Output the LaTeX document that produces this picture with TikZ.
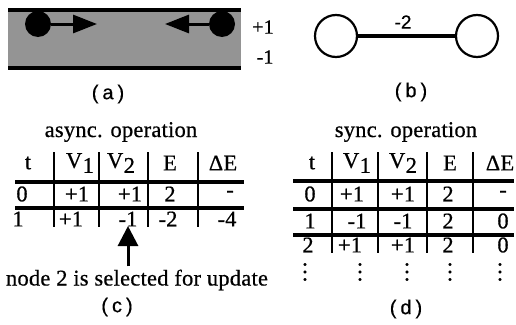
\documentclass[tikz,border=0pt]{standalone}
\usepackage{fontspec}
\setmainfont{Liberation Serif}[LetterSpace=1,FakeBold=0.6]
\newfontfamily\lblfont{Liberation Sans}[FakeBold=0.4]
\usetikzlibrary{arrows.meta}
\newcommand\vdts{\vbox{\baselineskip=7.5pt\lineskiplimit=-20pt\hbox{.}\hbox{.}\hbox{.}}}
\newcommand\sublbl[1]{{\lblfont\fontsize{20}{22}\selectfont(\kern4pt#1\kern4pt)}}
\newcommand\Vsub[1]{V\kern0.5pt\raisebox{-5pt}{#1}}
\begin{document}
\begin{tikzpicture}[x=1pt,y=-1pt,
  txt/.style={font=\fontsize{22.5}{24}\selectfont, inner sep=0pt, anchor=center},
  rulel/.style={line width=3.2pt},
  vrulel/.style={line width=2.8pt},
  dotn/.style={circle, fill=black, minimum size=26pt, inner sep=0pt},
  ring/.style={circle, draw, line width=2.2pt, minimum size=42pt, inner sep=0pt},
  bigarrow/.style={line width=3pt, -{Triangle[length=24pt,width=18pt]}},
  lbl/.style={inner sep=0pt, anchor=center}]
\useasboundingbox (0,0) rectangle (516,324);
% ---------- (a)
\fill[black!42] (8,10) rectangle (241,68);
\draw[rulel] (8,10) -- (241,10);
\draw[rulel] (8,68) -- (241,68);
\node[dotn] (d1) at (38,24) {};
\node[dotn] (d2) at (222,24) {};
\coordinate (t1) at (97,24);
\coordinate (t2) at (165,24);
\draw[bigarrow] (d1) -- (t1);
\draw[bigarrow] (d2) -- (t2);
\node[lbl, font=\fontsize{20}{22}\selectfont] (pl) at (263,27) {+1};
\node[lbl, font=\fontsize{20}{22}\selectfont] (mi) at (265,57) {-1};
\node[lbl] (la) at (108,94) {\sublbl{a}};
% ---------- (b)
\node[ring] (b1) at (336,36) {};
\node[ring] (b2) at (477,36) {};
\draw[line width=4pt] (b1) -- (b2);
\node[lbl, font=\lblfont\fontsize{19}{20}\selectfont] (w) at (403,22) {-2};
\node[lbl] (lb) at (411,92) {\sublbl{b}};
% ---------- (c)
\node[txt] (tc) at (121,132) {async. operation};
\draw[rulel] (15,182) -- (244,182);
\draw[rulel] (15,208) -- (244,208);
\foreach \x in {54,99,148,198} \draw[vrulel] (\x,152) -- (\x,227);
\node[txt] (ch1) at (28,163) {t};
\node[txt] (ch2) at (80,163) {\Vsub{1}};
\node[txt] (ch3) at (121,163) {\Vsub{2}};
\node[txt] (ch4) at (170,163) {E};
\node[txt] (ch5) at (223,163) {ΔE};
\node[txt] (c01) at (22,194) {0};
\node[txt] (c02) at (77,194) {+1};
\node[txt] (c03) at (130,194) {+1};
\node[txt] (c04) at (170,194) {2};
\node[txt] (c05) at (230,194) {-};
\node[txt] (c11) at (18,219) {1};
\node[txt] (c12) at (71,219) {+1};
\node[txt] (c13) at (128,219) {-1};
\node[txt] (c14) at (168,219) {-2};
\node[txt] (c15) at (227,219) {-4};
\coordinate (tipc) at (128,226);
\node[txt] (sel) at (137,280) {node 2 is selected for update};
\draw[line width=3pt, -{Triangle[length=20pt,width=20pt]}] (sel.north -| tipc) ++(0,-3) -- (tipc);
\node[lbl] (lc) at (117,307) {\sublbl{c}};
% ---------- (d)
\node[txt] (td) at (406,132) {sync. operation};
\draw[rulel] (293,181) -- (514,181);
\draw[rulel] (293,209) -- (514,209);
\draw[rulel] (293,235) -- (514,235);
\foreach \x in {332,378,427,473} \draw[vrulel] (\x,152) -- (\x,253);
\node[txt] (dh1) at (312,163) {t};
\node[txt] (dh2) at (357,163) {\Vsub{1}};
\node[txt] (dh3) at (403,163) {\Vsub{2}};
\node[txt] (dh4) at (450,163) {E};
\node[txt] (dh5) at (500,163) {ΔE};
\node[txt] (d01) at (310,194) {0};
\node[txt] (d02) at (352,194) {+1};
\node[txt] (d03) at (403,194) {+1};
\node[txt] (d04) at (448,194) {2};
\node[txt] (d05) at (503,194) {-};
\node[txt] (d11) at (310,221) {1};
\node[txt] (d12) at (357,221) {-1};
\node[txt] (d13) at (403,221) {-1};
\node[txt] (d14) at (448,221) {2};
\node[txt] (d15) at (503,221) {0};
\node[txt] (d21) at (308,245) {2};
\node[txt] (d22) at (350,245) {+1};
\node[txt] (d23) at (403,245) {+1};
\node[txt] (d24) at (448,245) {2};
\node[txt] (d25) at (503,245) {0};
\node[txt] (e1) at (305,272) {\vdts};
\node[txt] (e2) at (360,272) {\vdts};
\node[txt] (e3) at (407,272) {\vdts};
\node[txt] (e4) at (450,272) {\vdts};
\node[txt] (e5) at (500,272) {\vdts};
\node[lbl] (ld) at (406,309) {\sublbl{d}};
\end{tikzpicture}
\end{document}
